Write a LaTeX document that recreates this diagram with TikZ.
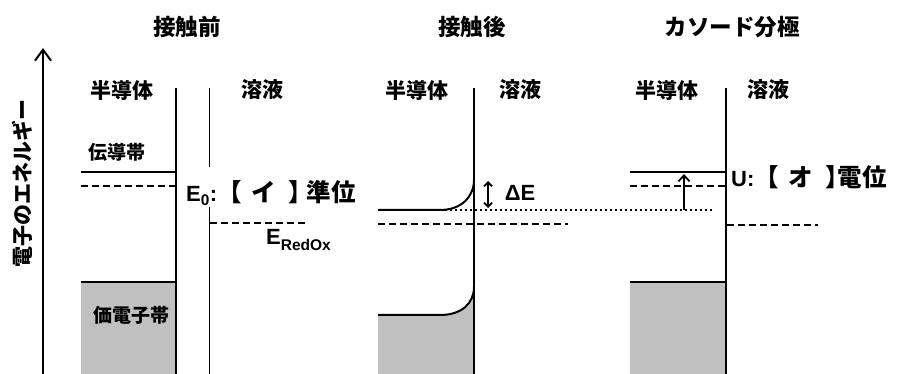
\documentclass[tikz,border=0pt]{standalone}
\usepackage{fontspec}
\setmainfont{Liberation Sans}
\newfontfamily\jp{Noto Sans CJK JP}
\usetikzlibrary{arrows.meta}
\definecolor{bandgray}{RGB}{192,192,192}
\newcommand{\jplbl}{\jp\bfseries\fontsize{24.5}{24.5}\selectfont}
\tikzset{
  txt/.style={inner sep=0pt, font=\jp\bfseries\fontsize{21}{21}\selectfont},
  ttl/.style={inner sep=0pt, font=\jp\bfseries\fontsize{22.5}{22.5}\selectfont},
  band/.style={inner sep=0pt, font=\jp\bfseries\fontsize{19}{19}\selectfont},
  lbl/.style={inner sep=0pt, font=\bfseries\fontsize{22}{22}\selectfont},
  thick line/.style={line width=2pt},
  iface/.style={line width=2.2pt},
  dashline/.style={line width=2pt, dash pattern=on 7pt off 4pt},
  dotline/.style={line width=1.6pt, dash pattern=on 1.6pt off 3.4pt},
  fillgray/.style={fill=bandgray, draw=none},
}
\begin{document}
\begin{tikzpicture}[x=1pt,y=-1pt]
\useasboundingbox (0,0) rectangle (898,374);
% energy axis
\coordinate (axB) at (43,374);
\coordinate (axT) at (43,48);
\draw[line width=2pt, -{Straight Barb[length=11pt,width=16pt,line width=2pt]}] (axB) -- (axT);
\node[txt, rotate=90] (elab) at (22,184) {電子のエネルギー};

% ---------------- panel 1 ----------------
\node[ttl] (t1) at (187,27) {接触前};
\node[txt] (sc1) at (122,90) {半導体};
\node[txt] (so1) at (262,90) {溶液};
\fill[fillgray] (81,282) rectangle (176,374);
\draw[iface] (176,88) -- (176,374);
\draw[line width=0.9pt] (209,88) -- (209,167);
\draw[line width=0.9pt] (209,207) -- (209,374);
\draw[thick line] (81,172) -- (176,172);
\draw[dashline] (81,186) -- (176,186);
\draw[dashline] (210,223) -- (305,223);
\draw[thick line] (81,282) -- (176,282);
\node[band] (cb1) at (117,152) {伝導帯};
\node[band] (vb1) at (131,315) {価電子帯};
\node[lbl, anchor=west] (e0) at (186,193) {E\textsubscript{0}:{\jplbl【\hspace{0.4em}イ\hspace{0.5em}】\hspace{-0.25em}準位}};
\node[lbl, anchor=west] (eredox) at (266,240) {E\raisebox{-6pt}{\fontsize{15.5}{15.5}\selectfont RedOx}};

% ---------------- panel 2 ----------------
\node[ttl] (t2) at (472,27) {接触後};
\node[txt] (sc2) at (417,90) {半導体};
\node[txt] (so2) at (520,90) {溶液};
\fill[fillgray] (378,315) -- (440,315) .. controls (462,315) and (474,303) .. (474,287) -- (474,374) -- (378,374) -- cycle;
\draw[dotline] (445,210) -- (713,210);
\draw[thick line] (378,210) -- (440,210) .. controls (462,210) and (474,196) .. (474,180);
\draw[thick line] (378,315) -- (440,315) .. controls (462,315) and (474,303) .. (474,287);
\draw[dashline] (378,224) -- (568,224);
\draw[iface] (474,88) -- (474,374);
\draw[line width=1.8pt, {Straight Barb[length=4pt,width=8pt]}-{Straight Barb[length=4pt,width=8pt]}] (488,181) -- (488,208);
\node[lbl] (dE) at (520,193) {ΔE};

% ---------------- panel 3 ----------------
\node[ttl] (t3) at (732,27) {カソード分極};
\node[txt] (sc3) at (667,90) {半導体};
\node[txt] (so3) at (768,90) {溶液};
\fill[fillgray] (630,282) rectangle (726,374);
\draw[thick line] (630,172) -- (726,172);
\draw[dashline] (630,186) -- (726,186);
\draw[thick line] (630,282) -- (726,282);
\draw[dashline] (727,225) -- (818,225);
\draw[iface] (726,88) -- (726,374);
\draw[line width=1.8pt, -{Straight Barb[length=6pt,width=11pt]}] (684,210) -- (684,174);
\node[lbl, anchor=west] (ulab) at (731,177) {U:{\jplbl【\hspace{0.4em}オ\hspace{0.5em}】\hspace{-0.5em}電位}};
\end{tikzpicture}
\end{document}
